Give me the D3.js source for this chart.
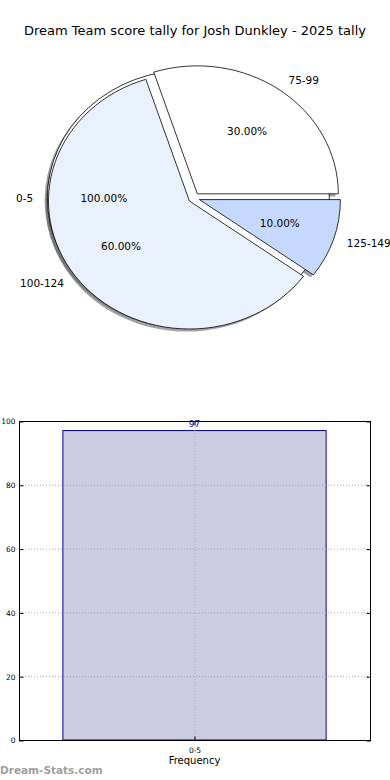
<!DOCTYPE html>
<html>
<head>
<meta charset="utf-8">
<script src="https://cdn.jsdelivr.net/npm/d3@7"></script>
<style>
  body { margin: 0; background: #fff; }
  svg { display: block; font-family: "DejaVu Sans", sans-serif; }
</style>
</head>
<body>
<svg width="390" height="780"></svg>
<script>
// pie data: the site draws a lone "0-5" slice first, then the rest on top
var fullLabels = ["0-5"];
var fullValues = [97];
var pieLabels = ["75-99", "100-124", "125-149"];
var pieValues = [3, 6, 1];
var pieColors = ["#ffffff", "#eaf1fe", "#c5d9fe"];

// bar data
var barCats = ["0-5"];
var barValues = [97];
var yTicks = [0, 20, 40, 60, 80, 100];

var svg = d3.select("svg");

svg.append("text")
  .attr("x", 195).attr("y", 35)
  .attr("text-anchor", "middle")
  .attr("font-size", 13)
  .text("Dream Team score tally for Josh Dunkley - 2025 tally");

// ---- pie ----
var cx = 194, cy = 198, rx = 141, ry = 128, explode = 0.04;
var arc = d3.arc().innerRadius(0).outerRadius(1);
// matplotlib starts at 3 o'clock and goes counter-clockwise
var pie = d3.pie().sort(null).startAngle(Math.PI / 2).endAngle(Math.PI / 2 - 2 * Math.PI);

// shadows sit under every wedge
var shadowLayer = svg.append("g");
var wedgeLayer = svg.append("g");
var labelLayer = svg.append("g");

function drawPie(labels, values, colors) {
  var total = d3.sum(values);
  pie(values).forEach(function(a, i) {
    var mid = (a.startAngle + a.endAngle) / 2;
    var sx = Math.sin(mid), sy = -Math.cos(mid);
    var ox = explode * rx * sx;
    var oy = explode * ry * sy;
    var col = d3.rgb(colors[i]);
    var shade = d3.rgb(col.r * 0.3, col.g * 0.3, col.b * 0.3);

    shadowLayer.append("path")
      .attr("d", arc(a))
      .attr("transform", "translate(" + (cx + ox - 0.02 * rx) + "," + (cy + oy + 0.02 * ry) + ") scale(" + rx + "," + ry + ")")
      .attr("fill", shade)
      .attr("fill-opacity", 0.5);

    wedgeLayer.append("path")
      .attr("d", arc(a))
      .attr("transform", "translate(" + (cx + ox) + "," + (cy + oy) + ") scale(" + rx + "," + ry + ")")
      .attr("fill", colors[i])
      .attr("stroke", "#000")
      .attr("stroke-width", 0.8)
      .attr("vector-effect", "non-scaling-stroke");

    labelLayer.append("text")
      .attr("x", cx + ox + 1.1 * rx * sx)
      .attr("y", cy + oy + 1.1 * ry * sy)
      .attr("dy", "0.35em")
      .attr("text-anchor", sx > 0 ? "start" : "end")
      .attr("font-size", 10.5)
      .text(labels[i]);

    labelLayer.append("text")
      .attr("x", cx + ox + 0.6 * rx * sx)
      .attr("y", cy + oy + 0.6 * ry * sy)
      .attr("dy", "0.35em")
      .attr("text-anchor", "middle")
      .attr("font-size", 10.5)
      .text((values[i] / total * 100).toFixed(2) + "%");
  });
}

drawPie(fullLabels, fullValues, ["#ffffff"]);
drawPie(pieLabels, pieValues, pieColors);

// ---- bar chart ----
var plotL = 19, plotR = 370, plotT = 421, plotB = 740;

var x = d3.scaleBand().domain(barCats).range([plotL, plotR]).paddingInner(0.25).paddingOuter(0.125);
var y = d3.scaleLinear().domain([0, 100]).range([plotB, plotT]);

var gBar = svg.append("g");

gBar.selectAll("rect.bar")
  .data(barValues)
  .enter().append("rect")
    .attr("class", "bar")
    .attr("x", (d, i) => x(barCats[i]))
    .attr("y", d => y(d))
    .attr("width", x.bandwidth())
    .attr("height", d => y(0) - y(d))
    .attr("fill", "#cccce2")
    .attr("stroke", "#00008b")
    .attr("stroke-width", 1);

// dotted grid on top of the bar
gBar.selectAll("line.hgrid")
  .data(yTicks)
  .enter().append("line")
    .attr("x1", plotL).attr("x2", plotR)
    .attr("y1", d => y(d) + 0.5).attr("y2", d => y(d) + 0.5)
    .attr("stroke", "#a8a8a8")
    .attr("stroke-dasharray", "1,2");

gBar.selectAll("line.vgrid")
  .data(barCats)
  .enter().append("line")
    .attr("x1", d => x(d) + x.bandwidth() / 2 + 0.5).attr("x2", d => x(d) + x.bandwidth() / 2 + 0.5)
    .attr("y1", plotT).attr("y2", plotB)
    .attr("stroke", "#a8a8a8")
    .attr("stroke-dasharray", "1,2");

// frame
gBar.append("rect")
  .attr("x", plotL + 0.5).attr("y", plotT + 0.5)
  .attr("width", plotR - plotL).attr("height", plotB - plotT)
  .attr("fill", "none").attr("stroke", "#000").attr("stroke-width", 1);

// y axis, ticks inward on both sides
var yAxisL = d3.axisLeft(y).tickValues(yTicks).tickSizeInner(-4).tickSizeOuter(0).tickPadding(4);
var gy = gBar.append("g").attr("transform", "translate(" + (plotL + 0.5) + ",0.5)").call(yAxisL);
gy.select(".domain").remove();
gy.selectAll("text").attr("font-size", 7.5).attr("font-family", "DejaVu Sans");

var yAxisR = d3.axisRight(y).tickValues(yTicks).tickSizeInner(-4).tickSizeOuter(0).tickFormat("");
var gyr = gBar.append("g").attr("transform", "translate(" + (plotR + 0.5) + ",0.5)").call(yAxisR);
gyr.select(".domain").remove();

var xAxis = d3.axisBottom(x).tickSizeInner(-4).tickSizeOuter(0).tickPadding(7);
var gx = gBar.append("g").attr("transform", "translate(0.5," + (plotB + 0.5) + ")").call(xAxis);
gx.select(".domain").remove();
gx.selectAll("text").attr("font-size", 7.5).attr("font-family", "DejaVu Sans");

var xAxisT = d3.axisTop(x).tickSizeInner(-4).tickSizeOuter(0).tickFormat("");
var gxt = gBar.append("g").attr("transform", "translate(0.5," + (plotT + 0.5) + ")").call(xAxisT);
gxt.select(".domain").remove();

// value label
gBar.selectAll("text.val")
  .data(barValues)
  .enter().append("text")
    .attr("class", "val")
    .attr("x", (d, i) => x(barCats[i]) + x.bandwidth() / 2)
    .attr("y", d => y(d) - 4)
    .attr("text-anchor", "middle")
    .attr("font-size", 9)
    .attr("fill", "#00008b")
    .text(d => d);

svg.append("text")
  .attr("x", (plotL + plotR) / 2).attr("y", 764)
  .attr("text-anchor", "middle")
  .attr("font-size", 10)
  .text("Frequency");

svg.append("text")
  .attr("x", 0).attr("y", 774)
  .attr("font-size", 10.5)
  .attr("font-weight", "bold")
  .attr("fill", "#a0a0a0")
  .text("Dream-Stats.com");
</script>
</body>
</html>
